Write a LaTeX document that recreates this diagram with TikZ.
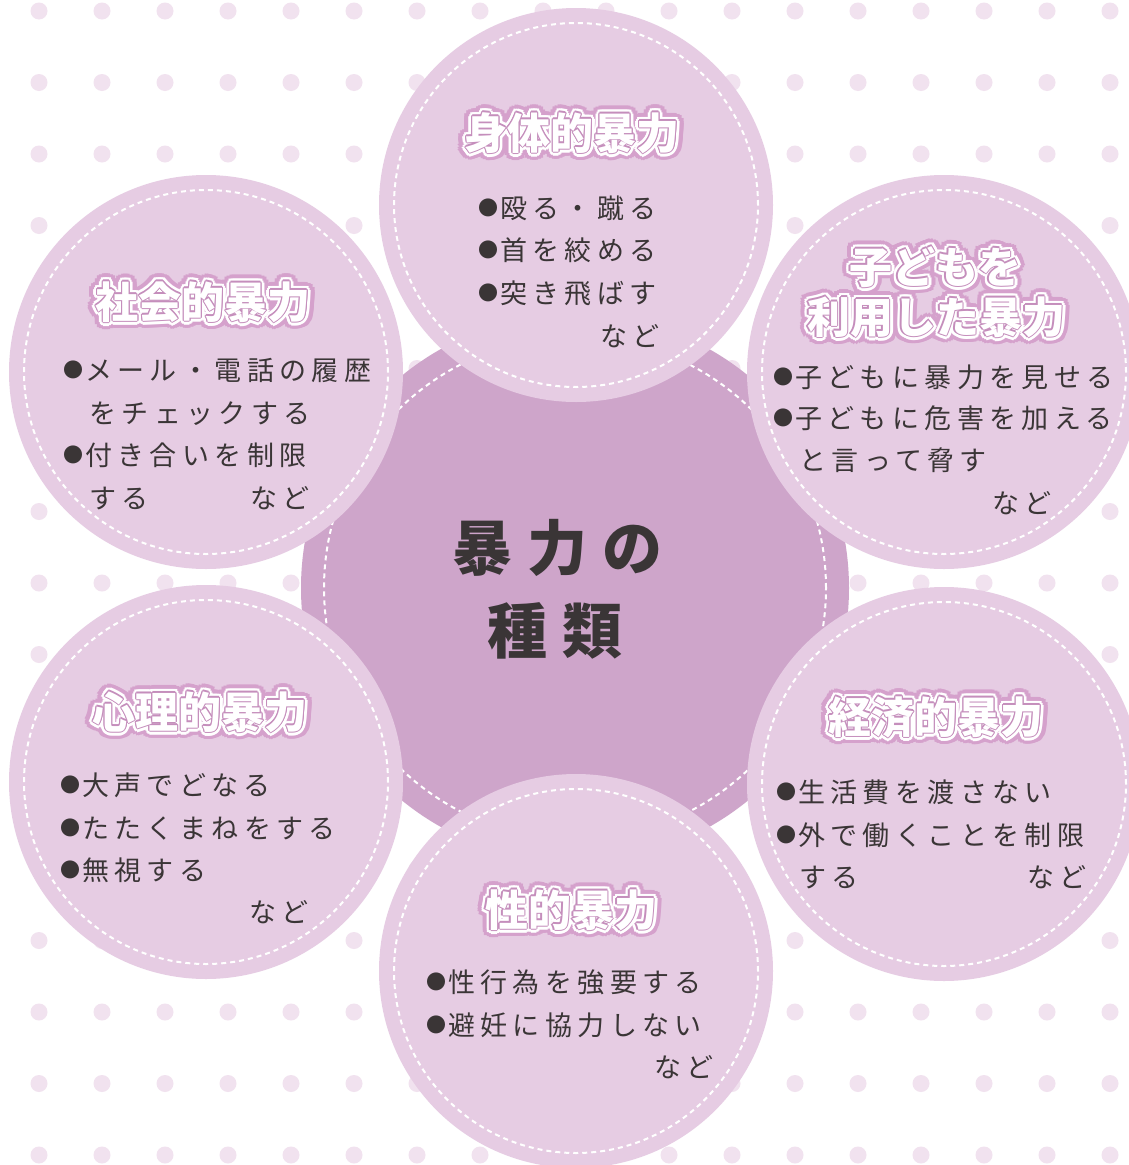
\documentclass[tikz,border=0pt]{standalone}
\usepackage{fontspec}
\newfontfamily\jpbody{Noto Sans CJK JP}[LetterSpace=20]
\newfontfamily\jptitle{Noto Sans CJK JP}
\newfontfamily\jpcenter{Noto Sans CJK JP}[LetterSpace=25]
\definecolor{dotc}{HTML}{F1E2EF}
\definecolor{circc}{HTML}{E6CCE3}
\definecolor{centc}{HTML}{CEA5CA}
\definecolor{haloc}{HTML}{D5A1CC}
\definecolor{rimc}{HTML}{C58EBC}
\definecolor{inkc}{HTML}{3A3536}
\tikzset{
  bigcirc/.style={circle, fill=circc, inner sep=0pt, minimum size=394pt},
  bigdash/.style={circle, draw=white, line width=2pt, dash pattern=on 5pt off 4pt, inner sep=0pt, minimum size=364pt},
  centcirc/.style={circle, fill=centc, inner sep=0pt, minimum size=548pt},
  centdash/.style={circle, draw=white, line width=2pt, dash pattern=on 5pt off 4pt, inner sep=0pt, minimum size=502pt},
  ttl/.style={font=\jptitle\bfseries\fontsize{43}{50}\selectfont, inner sep=0pt, anchor=base},
  body/.style={font=\jpbody\fontsize{27}{31}\selectfont, text=inkc, inner sep=0pt, anchor=base west},
  centtxt/.style={font=\jpcenter\bfseries\fontsize{60}{70}\selectfont, text=inkc, inner sep=0pt, anchor=base west}
}
\newcommand\bul{\raisebox{3pt}{\fontsize{20}{20}\selectfont ●}\hspace{2pt}}
\newcommand\halotitle[3]{%
  \foreach \ang in {0,20,...,340}{\node[ttl,text=haloc] at ([shift={(\ang:8)}]#2) {#3};}
  \foreach \ang in {0,30,...,330}{\node[ttl,text=white] at ([shift={(\ang:4)}]#2) {#3};}
  \foreach \ang in {0,45,...,315}{\node[ttl,text=rimc] at ([shift={(\ang:1.1)}]#2) {#3};}
  \node[ttl,text=white] (#1) at (#2) {#3};
}
\begin{document}
\begin{tikzpicture}[x=1pt,y=-1pt]
\useasboundingbox (0,0) rectangle (1129,1165);
\clip (0,0) rectangle (1129,1165);
\fill[white] (0,0) rectangle (1129,1165);
% dot pattern
\foreach \i in {0,...,17}{\foreach \j in {0,...,16}{\fill[dotc] ({39+63*\i},{11+71.5*\j}) circle[radius=8.5pt];}}
% centre
\node[centcirc] (cen) at (575,588) {};
\node[centdash] (cend) at (cen.center) {};
% outer circles
\node[bigcirc] (c1) at (576,205) {};
\node[bigdash] (d1) at (c1.center) {};
\node[bigcirc] (c2) at (206,372) {};
\node[bigdash] (d2) at (c2.center) {};
\node[bigcirc] (c3) at (944,372) {};
\node[bigdash] (d3) at (c3.center) {};
\node[bigcirc] (c4) at (206,782) {};
\node[bigdash] (d4) at (c4.center) {};
\node[bigcirc] (c5) at (944,784) {};
\node[bigdash] (d5) at (c5.center) {};
\node[bigcirc] (c6) at (576,971) {};
\node[bigdash] (d6) at (c6.center) {};
% centre text
\node[centtxt] (ct1) at (452,570) {暴力の};
\node[centtxt] (ct2) at (487,653) {種類};
% titles
\halotitle{t1}{572,149}{身体的暴力}
\halotitle{t2}{203,318}{社会的暴力}
\halotitle{t3a}{935,283}{子どもを}
\halotitle{t3b}{936,333}{利用した暴力}
\halotitle{t4}{200,728}{心理的暴力}
\halotitle{t5}{936,733}{経済的暴力}
\halotitle{t6}{571,926}{性的暴力}
% body: physical
\node[body] (p1) at (478,218) {\bul 殴る・蹴る};
\node[body] (p2) at (478,260) {\bul 首を絞める};
\node[body] (p3) at (478,303) {\bul 突き飛ばす};
\node[body] (p4) at (600,346) {など};
% social
\node[body] (s1) at (63,380) {\bul メール・電話の履歴};
\node[body] (s2) at (89,423) {をチェックする};
\node[body] (s3) at (63,465) {\bul 付き合いを制限};
\node[body] (s4) at (89,508) {する};
\node[body] (s5) at (250,508) {など};
% children
\node[body] (k1) at (773,387) {\bul 子どもに暴力を見せる};
\node[body] (k2) at (773,428) {\bul 子どもに危害を加える};
\node[body] (k3) at (799,470) {と言って脅す};
\node[body] (k4) at (992,513) {など};
% psychological
\node[body] (m1) at (60,795) {\bul 大声でどなる};
\node[body] (m2) at (60,838) {\bul たたくまねをする};
\node[body] (m3) at (60,880) {\bul 無視する};
\node[body] (m4) at (249,922) {など};
% sexual
\node[body] (x1) at (426,992) {\bul 性行為を強要する};
\node[body] (x2) at (426,1035) {\bul 避妊に協力しない};
\node[body] (x3) at (654,1077) {など};
% economic
\node[body] (e1) at (776,802) {\bul 生活費を渡さない};
\node[body] (e2) at (776,845) {\bul 外で働くことを制限};
\node[body] (e3) at (799,887) {する};
\node[body] (e4) at (1027,887) {など};
\end{tikzpicture}
\end{document}
